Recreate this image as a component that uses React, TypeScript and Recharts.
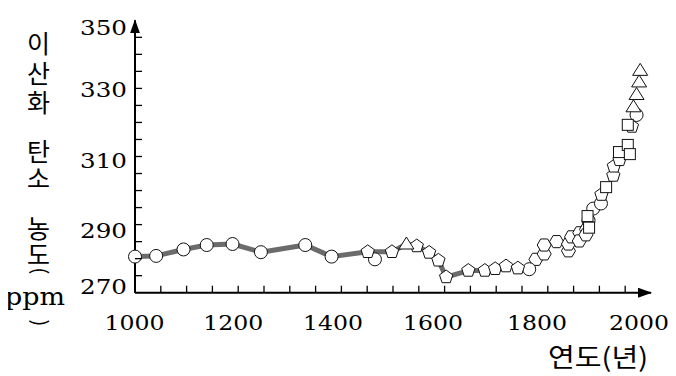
import { ComposedChart, Line, Scatter, XAxis, YAxis } from 'recharts';

// trend line (ice-core average), year -> ppm
const trendYears = [1000, 1041, 1094, 1139, 1189, 1244, 1330, 1381, 1451, 1498, 1526, 1546, 1570, 1588, 1603, 1646, 1678, 1698];
const trendPpm = [280.6, 280.8, 282.7, 284.0, 284.3, 281.9, 284.0, 280.6, 282.0, 282.0, 284.3, 283.7, 281.8, 279.5, 274.6, 276.5, 276.5, 277.0];

const circleYears = [1000, 1041, 1094, 1139, 1189, 1244, 1330, 1381, 1465, 1764, 1879, 1888, 1903, 1972];
const circlePpm = [280.6, 280.8, 282.7, 284.0, 284.3, 281.9, 284.0, 280.6, 279.8, 276.9, 291.2, 294.7, 296.2, 322.2];

const pentagonYears = [1451, 1498, 1546, 1570, 1588, 1603, 1646, 1678, 1698, 1719, 1742, 1904, 1927, 1928, 1939, 1963];
const pentagonPpm = [282.0, 282.0, 283.7, 281.8, 279.5, 274.6, 276.5, 276.5, 277.0, 277.8, 277.2, 298.8, 304.4, 307.1, 309.0, 318.8];

const hexagonYears = [1777, 1793, 1793, 1817, 1840, 1840, 1846, 1862, 1861, 1875, 1874];
const hexagonPpm = [279.8, 281.4, 284.0, 285.0, 282.3, 284.3, 286.4, 287.6, 285.2, 288.6, 287.0];

const squareYears = [1877, 1880, 1913, 1938, 1955, 1955, 1959];
const squarePpm = [292.5, 289.1, 301.0, 311.3, 319.3, 313.4, 310.7];

const triangleYears = [1526, 1966, 1972, 1977, 1979];
const trianglePpm = [284.3, 324.6, 328.2, 331.9, 335.3];

const xTicks = [1000, 1050, 1100, 1150, 1200, 1250, 1300, 1350, 1400, 1450, 1500, 1550, 1600, 1650, 1700, 1750, 1800, 1850, 1900, 1950, 2000];
const yTicks = [270, 275, 280, 285, 290, 295, 300, 305, 310, 315, 320, 325, 330, 335, 340, 345, 350];
const xLabels = [1000, 1200, 1400, 1600, 1800, 2000];
const yLabels = [270, 290, 310, 330, 350];

const toPoints = (years: number[], ppm: number[]) => years.map((year, i) => ({ year, ppm: ppm[i] }));

const NUM_FONT = "'DejaVu Serif', serif";
const KO_FONT = "'Noto Sans CJK KR', sans-serif";

// label nudges so they sit where the printed figure has them
const xLabelShift: Record<number, number> = { 1000: -0.5, 1200: -5, 1400: -8.4, 1600: -11.6, 1800: -10.8, 2000: -12 };
const yLabelShift: Record<number, number> = { 270: -6.7, 290: 5.4, 310: 3.5, 330: 0.6, 350: 7 };

function XTick({ x, y, payload }: any) {
  const v = payload.value as number;
  return (
    <g>
      {v < 2000 && <line x1={x} x2={x} y1={y} y2={y - 7} stroke="#000" strokeWidth={1.3} />}
      {xLabels.includes(v) && (
        <text
          x={x + xLabelShift[v]}
          y={y + 37}
          textAnchor="middle"
          fontFamily={NUM_FONT}
          fontSize={21}
          textLength={60}
          lengthAdjust="spacingAndGlyphs"
          fill="#000"
        >
          {v}
        </text>
      )}
    </g>
  );
}

function YTick({ x, y, payload }: any) {
  const v = payload.value as number;
  return (
    <g>
      {v > 270 && v < 350 && <line x1={x} x2={x + 7} y1={y} y2={y} stroke="#000" strokeWidth={1.3} />}
      {yLabels.includes(v) && (
        <text
          x={x - 8}
          y={y + yLabelShift[v] + 7.5}
          textAnchor="end"
          fontFamily={NUM_FONT}
          fontSize={21}
          textLength={47}
          lengthAdjust="spacingAndGlyphs"
          fill="#000"
        >
          {v}
        </text>
      )}
    </g>
  );
}

const markStyle = { fill: '#fff', stroke: '#111', strokeWidth: 1 };

const polygon = (cx: number, cy: number, r: number, n: number, start: number) =>
  Array.from({ length: n }, (_, k) => {
    const a = ((start + (360 / n) * k) * Math.PI) / 180;
    return `${cx + r * Math.cos(a)},${cy + r * Math.sin(a)}`;
  }).join(' ');

const CircleMark = ({ cx, cy }: any) => <circle cx={cx} cy={cy} r={6.5} {...markStyle} />;
const PentagonMark = ({ cx, cy }: any) => <polygon points={polygon(cx, cy, 7, 5, -90)} {...markStyle} />;
const HexagonMark = ({ cx, cy }: any) => <polygon points={polygon(cx, cy, 7, 6, 0)} {...markStyle} />;
const SquareMark = ({ cx, cy }: any) => <rect x={cx - 5.5} y={cy - 5.5} width={11} height={11} {...markStyle} />;
const TriangleMark = ({ cx, cy }: any) => (
  <polygon points={`${cx},${cy - 7} ${cx - 7.5},${cy + 5} ${cx + 7.5},${cy + 5}`} {...markStyle} />
);

const yTitle = [
  { t: '이', y: 42 },
  { t: '산', y: 72 },
  { t: '화', y: 101 },
  { t: '탄', y: 150 },
  { t: '소', y: 177 },
  { t: '농', y: 227 },
  { t: '도', y: 253 },
];

export default function App() {
  // shift by the body margin so chart coordinates equal page pixels
  return (
    <div style={{ position: 'relative', width: 676, height: 376, margin: '-8px 0 0 -8px' }}>
      <svg width={0} height={0} style={{ position: 'absolute' }}>
        <defs>
          <marker
            id="axisArrow"
            viewBox="0 0 14 10"
            markerWidth={14}
            markerHeight={10}
            refX={13}
            refY={5}
            orient="auto-start-reverse"
            markerUnits="userSpaceOnUse"
          >
            <path d="M0,0 L14,5 L0,10 Z" fill="#000" />
          </marker>
        </defs>
      </svg>
      <ComposedChart width={676} height={376} margin={{ top: 20.3, right: 25, bottom: 82.3, left: 134 }}>
        <XAxis
          type="number"
          dataKey="year"
          domain={[1000, 2000]}
          ticks={xTicks}
          interval={0}
          height={1}
          tickSize={0}
          tickMargin={0}
          tickLine={false}
          axisLine={{ stroke: '#000', strokeWidth: 2, markerEnd: 'url(#axisArrow)' }}
          tick={(p: any) => <XTick {...p} />}
        />
        <YAxis
          type="number"
          dataKey="ppm"
          domain={[270, 350]}
          ticks={yTicks}
          interval={0}
          width={1}
          tickSize={0}
          tickMargin={0}
          tickLine={false}
          axisLine={{ stroke: '#000', strokeWidth: 2, markerStart: 'url(#axisArrow)' }}
          tick={(p: any) => <YTick {...p} />}
        />
        <Line
          data={toPoints(trendYears, trendPpm)}
          dataKey="ppm"
          type="linear"
          stroke="#6b6b6b"
          strokeWidth={5}
          strokeLinejoin="round"
          dot={false}
          activeDot={false}
          isAnimationActive={false}
        />
        <Scatter data={toPoints(hexagonYears, hexagonPpm)} dataKey="ppm" shape={HexagonMark} isAnimationActive={false} />
        <Scatter data={toPoints(circleYears, circlePpm)} dataKey="ppm" shape={CircleMark} isAnimationActive={false} />
        <Scatter data={toPoints(pentagonYears, pentagonPpm)} dataKey="ppm" shape={PentagonMark} isAnimationActive={false} />
        <Scatter data={toPoints(squareYears, squarePpm)} dataKey="ppm" shape={SquareMark} isAnimationActive={false} />
        <Scatter data={toPoints(triangleYears, trianglePpm)} dataKey="ppm" shape={TriangleMark} isAnimationActive={false} />
      </ComposedChart>
      <svg width={676} height={376} style={{ position: 'absolute', left: 0, top: 0, pointerEvents: 'none' }}>
        {yTitle.map((c) => (
          <text
            key={c.t}
            x={38.5}
            y={c.y}
            textAnchor="middle"
            dominantBaseline="central"
            fontFamily={KO_FONT}
            fontSize={25}
            fill="#000"
          >
            {c.t}
          </text>
        ))}
        <text
          x={41}
          y={271}
          transform="rotate(90 41 271)"
          textAnchor="middle"
          dominantBaseline="central"
          fontFamily={KO_FONT}
          fontSize={20}
          fill="#000"
        >
          (
        </text>
        <text x={5} y={305} fontFamily={NUM_FONT} fontSize={24} textLength={60} lengthAdjust="spacingAndGlyphs" fill="#000">
          ppm
        </text>
        <text
          x={41}
          y={323}
          transform="rotate(90 41 323)"
          textAnchor="middle"
          dominantBaseline="central"
          fontFamily={KO_FONT}
          fontSize={20}
          fill="#000"
        >
          )
        </text>
        <text
          x={598}
          y={355}
          textAnchor="middle"
          dominantBaseline="central"
          fontFamily={KO_FONT}
          fontSize={26}
          textLength={100}
          lengthAdjust="spacingAndGlyphs"
          fill="#000"
        >
          연도(년)
        </text>
      </svg>
    </div>
  );
}
